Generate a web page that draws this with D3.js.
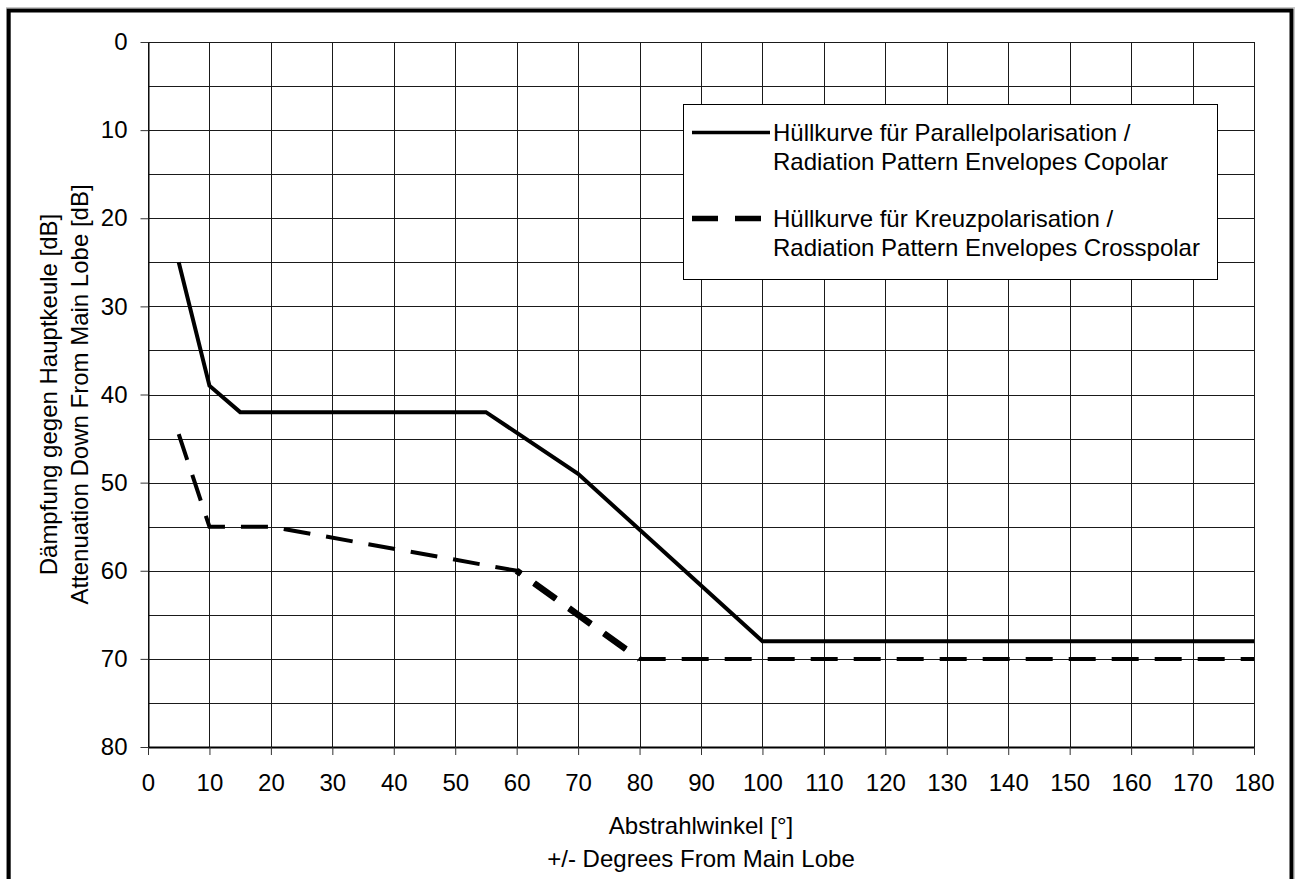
<!DOCTYPE html>
<html>
<head>
<meta charset="utf-8">
<script src="https://cdn.jsdelivr.net/npm/d3@7"></script>
<style>
  body { margin: 0; background: #fff; }
  svg { display: block; font-family: Arial, "Liberation Sans", sans-serif; }
</style>
</head>
<body>
<div id="container"></div>
<script>
"use strict";

const width = 1295;
const height = 879;
const plotLeft = 148;
const plotTop = 42;
const plotRight = 1254;
const plotBottom = 747;
const fontSize = "24px";
const dashes = "27,16";

// data
const coAngles = [5, 10, 15, 55, 70, 100, 180];
const coAttenuation = [25, 39, 42, 42, 49, 68, 68];
const crossAngles = [5, 10, 20, 60, 70, 80, 180];
const crossAttenuation = [44.5, 55, 55, 60, 65, 70, 70];
// the piece from 60 to 80 is drawn heavier in the original
const crossHeavyAngles = [60, 70, 80];
const crossHeavyAttenuation = [60, 65, 70];

const xTicks = d3.range(0, 181, 10);
const yTicks = d3.range(0, 81, 10);
const yGrid = d3.range(0, 81, 5);

const legendLabels = [
  ["Hüllkurve für Parallelpolarisation /", "Radiation Pattern Envelopes Copolar"],
  ["Hüllkurve für Kreuzpolarisation /", "Radiation Pattern Envelopes Crosspolar"],
];
const yTitle = ["Dämpfung gegen Hauptkeule [dB]", "Attenuation Down From Main Lobe [dB]"];
const xTitle = ["Abstrahlwinkel [°]", "+/- Degrees From Main Lobe"];

const xScale = d3.scaleLinear().domain([0, 180]).range([plotLeft, plotRight]);
const yScale = d3.scaleLinear().domain([0, 80]).range([plotTop, plotBottom]);

const svg = d3
  .select("#container")
  .append("svg")
  .attr("width", width)
  .attr("height", height);

// outer frame
svg
  .append("rect")
  .attr("x", 6.5)
  .attr("y", 7.5)
  .attr("width", 1288)
  .attr("height", 900)
  .attr("fill", "none")
  .attr("stroke", "#c8c8c8")
  .attr("stroke-width", 1);
svg
  .append("rect")
  .attr("x", 8.7)
  .attr("y", 10.5)
  .attr("width", 1282.8)
  .attr("height", 900)
  .attr("fill", "#fff")
  .attr("stroke", "#000")
  .attr("stroke-width", 4);

// grid
const grid = svg.append("g").attr("stroke", "#1a1a1a").attr("stroke-width", 1);
grid
  .selectAll("line.v")
  .data(xTicks)
  .enter()
  .append("line")
  .attr("x1", (d) => Math.round(xScale(d)) + 0.5)
  .attr("x2", (d) => Math.round(xScale(d)) + 0.5)
  .attr("y1", plotTop)
  .attr("y2", plotBottom);
grid
  .selectAll("line.h")
  .data(yGrid)
  .enter()
  .append("line")
  .attr("x1", plotLeft)
  .attr("x2", plotRight)
  .attr("y1", (d) => Math.round(yScale(d)) + 0.5)
  .attr("y2", (d) => Math.round(yScale(d)) + 0.5);

// axes
const yAxis = d3.axisLeft(yScale).tickValues(yTicks).tickSize(8).tickSizeOuter(0).tickPadding(13);
const gy = svg.append("g").attr("transform", `translate(${plotLeft + 0.5},0)`).call(yAxis);
const xAxis = d3.axisBottom(xScale).tickValues(xTicks).tickSize(8).tickSizeOuter(0).tickPadding(19);
const gx = svg.append("g").attr("transform", `translate(0,${plotBottom})`).call(xAxis);

[gx, gy].forEach((g) => {
  g.attr("font-size", null).attr("font-family", null);
  g.selectAll("text").style("font-size", fontSize).attr("fill", "#000");
  g.selectAll("line").attr("stroke", "#333");
  g.select(".domain").attr("stroke", "#000");
});
gx.select(".domain").attr("stroke-width", 2);

// series
const line = d3
  .line()
  .x((d) => xScale(d[0]))
  .y((d) => yScale(d[1]));

svg
  .append("path")
  .datum(d3.zip(coAngles, coAttenuation))
  .attr("d", line)
  .attr("fill", "none")
  .attr("stroke", "#000")
  .attr("stroke-width", 4);

svg
  .append("path")
  .datum(d3.zip(crossAngles, crossAttenuation))
  .attr("d", line)
  .attr("fill", "none")
  .attr("stroke", "#000")
  .attr("stroke-width", 4)
  .attr("stroke-dasharray", dashes);

// length of the dashed line up to where the heavy piece starts, so the dashes line up
const startIdx = crossAngles.indexOf(crossHeavyAngles[0]);
const probe = svg
  .append("path")
  .attr("d", line(d3.zip(crossAngles, crossAttenuation).slice(0, startIdx + 1)));
const offset = probe.node().getTotalLength();
probe.remove();

svg
  .append("path")
  .datum(d3.zip(crossHeavyAngles, crossHeavyAttenuation))
  .attr("d", line)
  .attr("fill", "none")
  .attr("stroke", "#000")
  .attr("stroke-width", 6.5)
  .attr("stroke-dasharray", dashes)
  .attr("stroke-dashoffset", offset);

// legend
const legend = svg.append("g");
legend
  .append("rect")
  .attr("x", 683.5)
  .attr("y", 104.5)
  .attr("width", 534)
  .attr("height", 175)
  .attr("fill", "#fff")
  .attr("stroke", "#000")
  .attr("stroke-width", 1);

const legendRows = legend
  .selectAll("g.row")
  .data(legendLabels)
  .enter()
  .append("g")
  .attr("transform", (d, i) => `translate(0,${132.5 + i * 86})`);

legendRows
  .append("line")
  .attr("x1", 692)
  .attr("x2", 770)
  .attr("y1", 0)
  .attr("y2", 0)
  .attr("stroke", "#000")
  .attr("stroke-width", (d, i) => (i === 0 ? 3.5 : 5.5))
  .attr("stroke-dasharray", (d, i) => (i === 0 ? null : "26,17"));

legendRows
  .selectAll("text")
  .data((d) => d)
  .enter()
  .append("text")
  .attr("x", 773)
  .attr("y", (d, j) => j * 29)
  .attr("dy", "0.35em")
  .style("font-size", fontSize)
  .text((d) => d);

// axis titles
svg
  .append("g")
  .attr("transform", `translate(0,${(plotTop + plotBottom) / 2}) rotate(-90)`)
  .selectAll("text")
  .data(yTitle)
  .enter()
  .append("text")
  .attr("x", 0)
  .attr("y", (d, i) => 57 + i * 31)
  .attr("text-anchor", "middle")
  .style("font-size", fontSize)
  .text((d) => d);

svg
  .append("g")
  .selectAll("text")
  .data(xTitle)
  .enter()
  .append("text")
  .attr("x", (plotLeft + plotRight) / 2)
  .attr("y", (d, i) => 834 + i * 33)
  .attr("text-anchor", "middle")
  .style("font-size", fontSize)
  .text((d) => d);
</script>
</body>
</html>
